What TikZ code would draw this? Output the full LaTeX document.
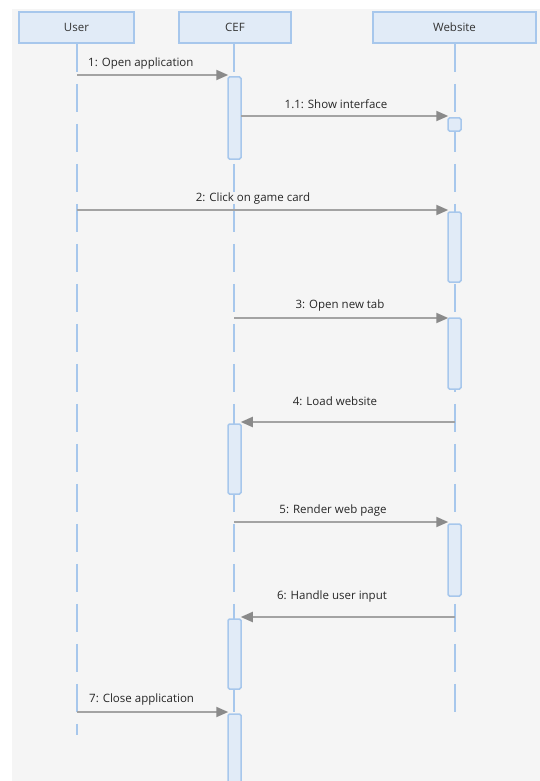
\documentclass[tikz,border=0pt]{standalone}
\usepackage{fontspec}
\setmainfont{Open Sans}
\usepackage{tikz}
\usetikzlibrary{arrows.meta}
\usepackage{xcolor}

\definecolor{boxfill}{HTML}{E1EBF7}
\definecolor{boxline}{HTML}{A7C7EC}
\definecolor{msggray}{HTML}{A3A3A3}
\definecolor{tipgray}{HTML}{8A8A8A}
\definecolor{bggray}{HTML}{F5F5F5}

\begin{document}
\begin{tikzpicture}[x=1pt, y=-1pt,
    actor/.style={rectangle, draw=boxline, line width=1.6pt, fill=boxfill, minimum width=#1, minimum height=31pt, font=\fontsize{11.5}{13}\selectfont, text=black!80, inner sep=0pt},
    actbar/.style={rectangle, draw=boxline, line width=1.5pt, fill=boxfill, rounded corners=1.5pt, minimum width=13pt, minimum height=#1, inner sep=0pt},
    life/.style={draw=boxline, line width=2pt, dash pattern=on 28pt off 12pt},
    msg/.style={draw=msggray, line width=2pt, -{Triangle[length=12pt, width=10pt, color=tipgray]}, shorten >=-1pt},
    lbl/.style={font=\fontsize{11.5}{13}\selectfont, text=black!85, inner sep=0pt}
]

\clip (0,0) rectangle (540,781);
\fill[white] (0,0) rectangle (540,781);
\fill[bggray] (12,9) rectangle (540,781);

% Actors
\node[actor=115pt] (user) at (76.5,27.5) {User};
\node[actor=112pt] (cef) at (235,27.5) {CEF};
\node[actor=163pt] (web) at (454.5,27.5) {Website};

% Lifelines
\coordinate (userend) at (77,735);
\coordinate (cefend) at (234,790);
\coordinate (webend) at (455,717);
\draw[life] (user.south -| userend) -- (userend);
\draw[life] (cef.south -| cefend) -- (cefend);
\draw[life] (web.south -| webend) -- (webend);

% Activations
\node[actbar=82pt] (a1) at (234.5,118) {};
\node[actbar=13pt] (a11) at (454.5,124.5) {};
\node[actbar=70pt] (a2) at (454.5,247) {};
\node[actbar=71pt] (a3) at (454.5,353.5) {};
\node[actbar=70pt] (a4) at (234.5,459) {};
\node[actbar=72pt] (a5) at (454.5,560) {};
\node[actbar=70pt] (a6) at (234.5,654) {};
\node[actbar=76pt] (a7) at (234.5,752) {};

% Messages
\coordinate (m1) at (77,75);
\coordinate (m11) at (241,116);
\coordinate (m2) at (77,210);
\coordinate (m3) at (234,318);
\coordinate (m4) at (455,422);
\coordinate (m5) at (234,522);
\coordinate (m6) at (455,617);
\coordinate (m7) at (77,712);

\draw[msg] (m1) -- (m1 -| a1.west);
\node[lbl, anchor=west] at (88,63.5) {1: Open application};

\draw[msg] (m11) -- (m11 -| a11.west);
\node[lbl] at (336,104.5) {1.1: Show interface};

\draw[msg] (m2) -- (m2 -| a2.west);
\node[lbl] at (253,198.5) {2: Click on game card};

\draw[msg] (m3) -- (m3 -| a3.west);
\node[lbl] at (340,305.5) {3: Open new tab};

\draw[msg] (m4) -- (m4 -| a4.east);
\node[lbl] at (335,401.5) {4: Load website};

\draw[msg] (m5) -- (m5 -| a5.west);
\node[lbl] at (333,510.5) {5: Render web page};

\draw[msg] (m6) -- (m6 -| a6.east);
\node[lbl] at (332,596.5) {6: Handle user input};

\draw[msg] (m7) -- (m7 -| a7.west);
\node[lbl, anchor=west] at (89,699.5) {7: Close application};

\end{tikzpicture}
\end{document}
